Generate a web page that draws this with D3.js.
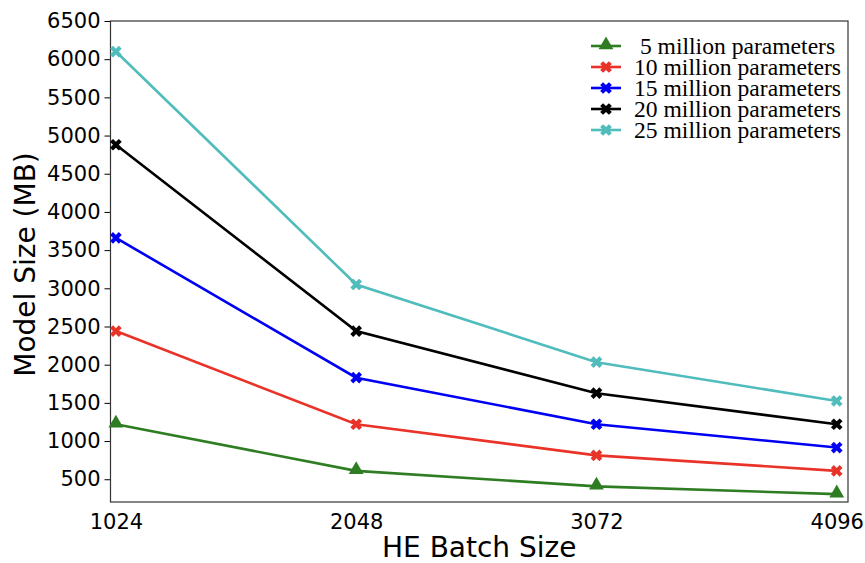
<!DOCTYPE html>
<html>
<head>
<meta charset="utf-8">
<script src="https://cdn.jsdelivr.net/npm/d3@7"></script>
<style>
  html, body { margin: 0; padding: 0; background: #fff; }
  svg { display: block; }
</style>
</head>
<body>
<svg id="chart" width="865" height="563"></svg>
<script>
// Model size (MB) against HE batch size for several model sizes
const batchSizes = [1024, 2048, 3072, 4096];
const seriesNames = [" 5 million parameters", "10 million parameters", "15 million parameters", "20 million parameters", "25 million parameters"];
const size5M  = [1220, 610, 407, 305];
const size10M = [2440, 1220, 813, 610];
const size15M = [3660, 1830, 1220, 915];
const size20M = [4880, 2440, 1627, 1220];
const size25M = [6100, 3050, 2033, 1525];
const yTicks = [500, 1000, 1500, 2000, 2500, 3000, 3500, 4000, 4500, 5000, 5500, 6000, 6500];
const seriesColors = ["#2e7d22", "#ea3328", "#0000f5", "#000000", "#50bcbc"];
const seriesMarkers = ["triangle", "x", "x", "x", "x"];

const seriesValues = [size5M, size10M, size15M, size20M, size25M];
const series = seriesNames.map((name, i) => ({
  name, color: seriesColors[i], marker: seriesMarkers[i],
  points: batchSizes.map((b, j) => ({ x: b, y: seriesValues[i][j] }))
}));

const svg = d3.select("#chart");
const plot = { left: 110.5, right: 848, top: 21, bottom: 502 };

const x = d3.scaleLinear().domain([1001, 4144]).range([plot.left, plot.right]);
const y = d3.scaleLinear().domain([202, 6500]).range([plot.bottom, plot.top]);

// Y axis
const yAxis = svg.append("g")
  .attr("transform", `translate(${plot.left},0)`)
  .call(d3.axisLeft(y).tickValues(yTicks).tickSize(6).tickPadding(4).tickFormat(d3.format("d")));
yAxis.select(".domain").remove();
yAxis.selectAll(".tick line").attr("stroke", "#000").attr("stroke-width", 1);
yAxis.selectAll(".tick text")
  .attr("fill", "#000")
  .style("font-family", "'DejaVu Sans', sans-serif")
  .style("font-size", "21px");

// X axis (labels only)
const xAxis = svg.append("g")
  .attr("transform", `translate(0,${plot.bottom})`)
  .call(d3.axisBottom(x).tickValues(batchSizes).tickSize(0).tickPadding(12).tickFormat(d3.format("d")));
xAxis.select(".domain").remove();
xAxis.selectAll(".tick text")
  .attr("fill", "#000")
  .style("font-family", "'DejaVu Sans', sans-serif")
  .style("font-size", "21px");

// Frame
svg.append("rect")
  .attr("x", plot.left).attr("y", plot.top)
  .attr("width", plot.right - plot.left).attr("height", plot.bottom - plot.top)
  .attr("fill", "none").attr("stroke", "#333").attr("stroke-width", 1.2);

// Axis titles
svg.append("text")
  .attr("x", (plot.left + plot.right) / 2).attr("y", 557)
  .attr("text-anchor", "middle")
  .style("font-family", "'DejaVu Sans', sans-serif").style("font-size", "28px")
  .text("HE Batch Size");
svg.append("text")
  .attr("transform", `translate(35,${(plot.top + plot.bottom) / 2 + 3}) rotate(-90)`)
  .attr("text-anchor", "middle")
  .style("font-family", "'DejaVu Sans', sans-serif").style("font-size", "28px")
  .text("Model Size (MB)");

// Marker shapes
const xMarker = d3.symbol().type(d3.symbolCross).size(85)();
const triMarker = d3.symbol().type(d3.symbolTriangle).size(95)();
function drawMarker(g, kind, color) {
  if (kind === "triangle") {
    g.append("path").attr("d", triMarker).attr("fill", color).attr("transform", "translate(0,-1)");
  } else {
    g.append("path").attr("d", xMarker).attr("fill", color).attr("transform", "rotate(45)");
  }
}

// Series lines and markers
const line = d3.line().x(d => x(d.x)).y(d => y(d.y));
series.forEach(s => {
  svg.append("path")
    .datum(s.points)
    .attr("d", line)
    .attr("fill", "none")
    .attr("stroke", s.color)
    .attr("stroke-width", 2.6);
  s.points.forEach(p => {
    const g = svg.append("g").attr("transform", `translate(${x(p.x)},${y(p.y)})`);
    drawMarker(g, s.marker, s.color);
  });
});

// Legend
const legend = svg.append("g").attr("transform", "translate(591,46)");
series.forEach((s, i) => {
  const row = legend.append("g").attr("transform", `translate(0,${i * 21})`);
  row.append("line").attr("x1", 0).attr("x2", 30).attr("y1", 0).attr("y2", 0)
    .attr("stroke", s.color).attr("stroke-width", 2.6);
  const m = row.append("g").attr("transform", "translate(15,0)");
  drawMarker(m, s.marker, s.color);
  row.append("text")
    .attr("x", 43).attr("y", 0).attr("dy", "0.33em")
    .attr("xml:space", "preserve")
    .style("white-space", "pre")
    .style("font-family", "'Liberation Serif', 'Times New Roman', serif")
    .style("font-size", "23.6px")
    .text(s.name);
});
</script>
</body>
</html>
